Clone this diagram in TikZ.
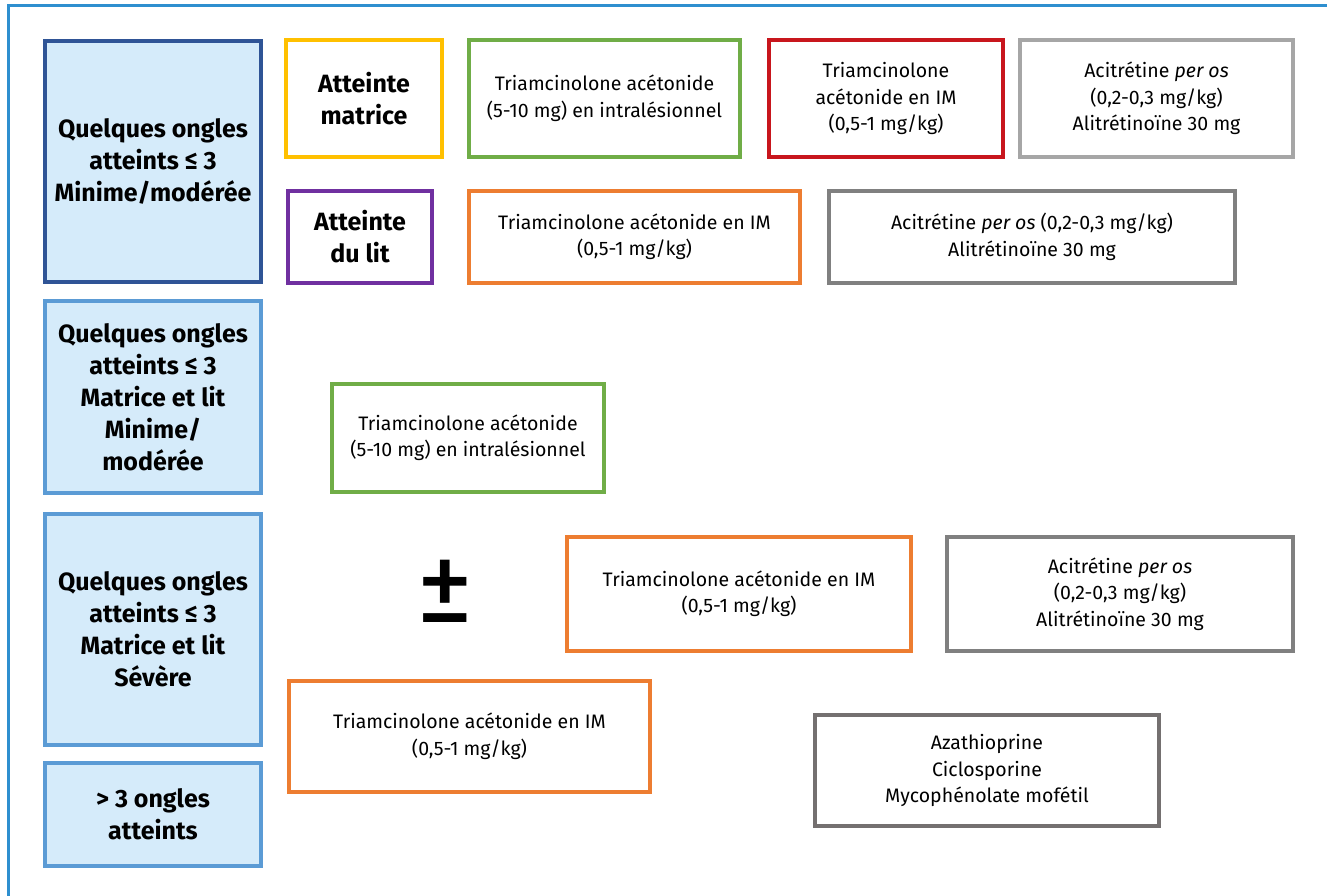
\documentclass[tikz,border=0pt]{standalone}
\usepackage{fontspec}
\setmainfont{Fira Sans}
\usepackage{tikz}
\definecolor{framebl}{HTML}{2E8FCF}
\definecolor{darkbl}{HTML}{2F5496}
\definecolor{midbl}{HTML}{5B9BD5}
\definecolor{palebl}{HTML}{D5EBFA}
\definecolor{yell}{HTML}{FFC000}
\definecolor{purp}{HTML}{7030A0}
\definecolor{grn}{HTML}{70AD47}
\definecolor{rd}{HTML}{C8161D}
\definecolor{orng}{HTML}{ED7D31}
\definecolor{lgry}{HTML}{A6A6A6}
\definecolor{gry}{HTML}{808080}
\definecolor{dgry}{HTML}{747070}
\tikzset{
  box/.style={draw, line width=3.5pt, align=center, inner sep=0pt, fill=white,
    font=\fontsize{19.5}{26.5}\selectfont},
  stage/.style={box, draw=midbl, fill=palebl, minimum width=216pt,
    font=\fontsize{25}{32}\selectfont\bfseries},
  zone/.style={box, font=\fontsize{25}{32}\selectfont\bfseries}
}

\begin{document}
\begin{tikzpicture}[x=1pt,y=-1pt]
\useasboundingbox (0,0) rectangle (1327,896);
% frame
\draw [framebl, line width=3pt] (8,896) -- (8,6) -- (1327,6);

% left column
\node [stage, draw=darkbl, minimum height=241pt] (Q1) at (153,161.5)
  {Quelques ongles\\atteints ≤ 3\\Minime/modérée};
\node [stage, minimum height=192pt] (Q2) at (153,397)
  {Quelques ongles\\atteints ≤ 3\\Matrice et lit\\Minime/\\modérée};
\node [stage, minimum height=231pt] (Q3) at (153,629.5)
  {Quelques ongles\\atteints ≤ 3\\Matrice et lit\\Sévère};
\node [stage, minimum height=103pt] (Q4) at (153,814.5)
  {> 3 ongles\\atteints};

% first row
\node [zone, draw=yell, minimum width=156pt, minimum height=117pt] (M1) at (364,98.5)
  {Atteinte\\matrice};
\node [box, draw=grn, minimum width=271pt, minimum height=117pt] (M2) at (604.5,98.5)
  {Triamcinolone acétonide\\(5-10 mg) en intralésionnel};
\node [box, draw=rd, minimum width=234pt, minimum height=117pt] (M3) at (886,98.5)
  {Triamcinolone\\acétonide en IM\\(0,5-1 mg/kg)};
\node [box, draw=lgry, minimum width=273pt, minimum height=117pt] (M4) at (1156.5,98.5)
  {Acitrétine \textit{per os}\\(0,2-0,3 mg/kg)\\Alitrétinoïne 30 mg};

% second row
\node [zone, draw=purp, minimum width=144pt, minimum height=92pt] (L1) at (360,237)
  {Atteinte\\du lit};
\node [box, draw=orng, minimum width=331pt, minimum height=92pt] (L2) at (634.5,237)
  {Triamcinolone acétonide en IM\\(0,5-1 mg/kg)};
\node [box, draw=gry, minimum width=406pt, minimum height=92pt] (L3) at (1032,237)
  {Acitrétine \textit{per os} (0,2-0,3 mg/kg)\\Alitrétinoïne 30 mg};

% matrice et lit, minime
\node [box, draw=grn, minimum width=272pt, minimum height=108pt] (N1) at (468,438)
  {Triamcinolone acétonide\\(5-10 mg) en intralésionnel};

% matrice et lit, severe
\node [inner sep=0pt, font=\fontsize{115}{115}\selectfont] (PM) at (445,591) {±};
\node [box, draw=orng, minimum width=344pt, minimum height=114pt] (S1) at (739,594)
  {Triamcinolone acétonide en IM\\(0,5-1 mg/kg)};
\node [box, draw=gry, minimum width=346pt, minimum height=114pt] (S2) at (1120,594)
  {Acitrétine \textit{per os}\\(0,2-0,3 mg/kg)\\Alitrétinoïne 30 mg};

% more than 3 nails
\node [box, draw=orng, minimum width=361pt, minimum height=111pt] (P1) at (469.5,736.5)
  {Triamcinolone acétonide en IM\\(0,5-1 mg/kg)};
\node [box, draw=dgry, minimum width=344pt, minimum height=111pt] (P2) at (987,770.5)
  {Azathioprine\\Ciclosporine\\Mycophénolate mofétil};
\end{tikzpicture}
\end{document}
